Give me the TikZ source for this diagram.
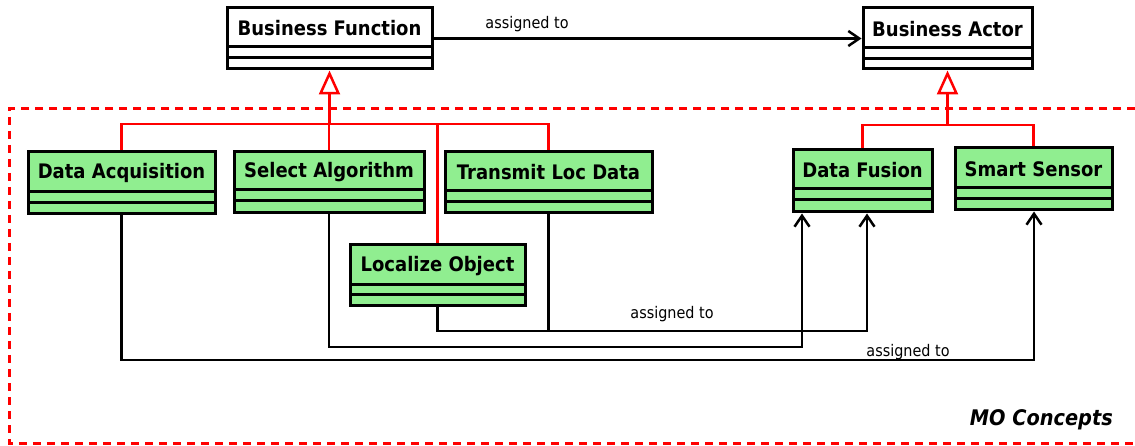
\documentclass[tikz,border=0pt]{standalone}
\usepackage{fontspec}
\setmainfont{DejaVu Sans}[FakeStretch=0.9]
\usetikzlibrary{arrows.meta,fit}
\definecolor{umlgreen}{RGB}{144,238,144}
\definecolor{umlred}{RGB}{255,0,0}
\tikzset{
  classbox/.style={draw=black, line width=3pt, inner sep=0pt},
  classname/.style={font=\bfseries\fontsize{20}{22}\selectfont, inner sep=0pt},
  compline/.style={draw=black, line width=3pt},
  redline/.style={draw=umlred, line width=2.5pt},
  gen/.style={draw=umlred, line width=2.5pt, -{Triangle[open, length=24pt, width=21pt, line width=2.5pt]}},
  assoc/.style={draw=black, line width=2.5pt, -{Straight Barb[length=11pt, width=15pt, line width=2.5pt]}},
  conn/.style={draw=black, line width=2.5pt},
  lbl/.style={font=\fontsize{16}{18}\selectfont, inner sep=0pt},
  group/.style={draw=umlred, line width=3pt, dash pattern=on 8pt off 6pt},
}
% name, x1, y1, x2, y2, header bottom, divider, fill, text
\newcommand{\umlclass}[9]{%
  \coordinate (#1-nw) at (#2,#3);
  \coordinate (#1-se) at (#4,#5);
  \node[classbox, fill=#8, fit=(#1-nw)(#1-se)] (#1) {};
  \draw[compline] (#2,#6) -- (#4,#6);
  \draw[compline] (#2,#7) -- (#4,#7);
  \node[classname] (#1-name) at ({(#2+#4)/2},{(#3+#6)/2+1}) {#9};
}
\begin{document}
\begin{tikzpicture}[x=1pt,y=-1pt]
\useasboundingbox (0,0) rectangle (1135,446);
% group frame (open on the right, runs off the page)
\draw[group] (1135,109) -- (9,109) -- (9,443) -- (1135,443);
% classes
\umlclass{bf}{227}{8}{432}{69}{47}{58}{white}{Business Function}
\umlclass{ba}{863}{8}{1032}{69}{48}{59}{white}{Business Actor}
\umlclass{da}{28}{152}{215}{214}{192}{203}{umlgreen}{Data Acquisition}
\umlclass{sa}{234}{152}{424}{213}{190}{201}{umlgreen}{Select Algorithm}
\umlclass{tl}{445}{152}{652}{213}{191}{202}{umlgreen}{Transmit Loc Data}
\umlclass{lo}{350}{245}{525}{306}{285}{295}{umlgreen}{Localize Object}
\umlclass{df}{793}{150}{932}{212}{189}{200}{umlgreen}{Data Fusion}
\umlclass{ss}{955}{148}{1112}{210}{188}{199}{umlgreen}{Smart Sensor}
% top association
\draw[assoc] (bf.east) -- (ba.west);
\node[lbl] (l1) at (527,24) {assigned to};
% generalization trees
\coordinate (bfj) at (329.5,124);
\coordinate (baj) at (947.5,125);
\draw[redline] (da.north) |- (tl.north |- bfj) -- (tl.north);
\draw[redline] (sa.north) -- (sa.north |- bfj);
\draw[redline] (lo.north) -- (lo.north |- bfj);
\draw[gen] (bfj) -- (bf.south);
\draw[redline] (df.north) |- (ss.north |- baj) -- (ss.north);
\draw[gen] (baj) -- (ba.south);
% lower associations
\coordinate (a1) at (802,347);
\coordinate (a2) at (867,331);
\coordinate (a3) at (1034,360);
\draw[assoc] (sa.south) |- (a1) -- (df.south -| a1);
\draw[assoc] (lo.south) |- (a2) -- (df.south -| a2);
\draw[conn] (tl.south) -- (tl.south |- a2);
\draw[assoc] (da.south) |- (a3) -- (ss.south -| a3);
\node[lbl] (l2) at (672,314) {assigned to};
\node[lbl] (l3) at (908,352) {assigned to};
% group title
\node[font=\bfseries\itshape\fontsize{21.5}{24}\selectfont, anchor=east, inner sep=0pt] (mo) at (1113,420) {MO Concepts};
\end{tikzpicture}
\end{document}
